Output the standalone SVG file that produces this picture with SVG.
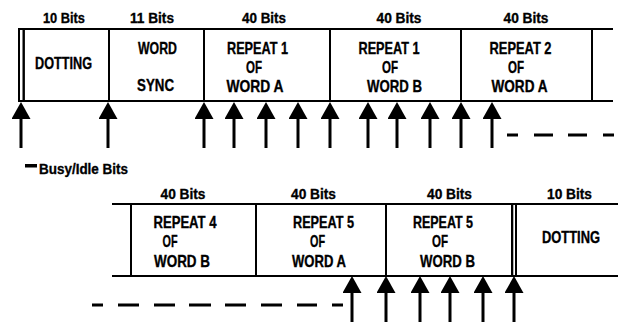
<svg xmlns="http://www.w3.org/2000/svg" width="618" height="322" viewBox="0 0 618 322">
<style>
.bg{fill:#fff}
.cell{fill:none;stroke:#000;stroke-width:2}
.ln{stroke:#000;stroke-width:2;fill:none}
.t{font-family:"Liberation Sans Narrow","Liberation Sans",Arial,sans-serif;font-weight:bold;fill:#000;stroke:#000;stroke-width:0.35;text-anchor:middle}
.lbl{font-size:15px}
.nt{font-size:16.5px}
.arrow{stroke:#000;stroke-width:3;fill:none;marker-end:url(#head)}
.dash{stroke:#000;stroke-width:3;fill:none}
</style>
<defs>
<marker id="head" markerUnits="userSpaceOnUse" viewBox="0 0 17 19" markerWidth="17" markerHeight="19" refX="0" refY="9.5" orient="auto">
<path d="M0,0 L17,9.5 L0,19 Z" fill="#000"/>
</marker>
</defs>
<rect class="bg" x="0" y="0" width="618" height="322"/>

<g id="bit-labels" class="t lbl">
<text x="64" y="23" textLength="42" lengthAdjust="spacingAndGlyphs">10 Bits</text>
<text x="152" y="23" textLength="44" lengthAdjust="spacingAndGlyphs">11 Bits</text>
<text x="264" y="23" textLength="44" lengthAdjust="spacingAndGlyphs">40 Bits</text>
<text x="399" y="23" textLength="45" lengthAdjust="spacingAndGlyphs">40 Bits</text>
<text x="526" y="23" textLength="45" lengthAdjust="spacingAndGlyphs">40 Bits</text>
<text x="183" y="198.5" textLength="45" lengthAdjust="spacingAndGlyphs">40 Bits</text>
<text x="313.5" y="198.5" textLength="45" lengthAdjust="spacingAndGlyphs">40 Bits</text>
<text x="449.5" y="198.5" textLength="45" lengthAdjust="spacingAndGlyphs">40 Bits</text>
<text x="569.5" y="198.5" textLength="45" lengthAdjust="spacingAndGlyphs">10 Bits</text>
</g>

<g id="row1-frame">
<line class="ln" x1="592" y1="29" x2="613" y2="29"/>
<line class="ln" x1="592" y1="101" x2="613" y2="101"/>
</g>
<g id="busy1"><rect class="cell" x="19" y="29" width="4.7" height="72"/></g>
<g id="dotting1" class="t nt">
<rect class="cell" x="23.7" y="29" width="85.3" height="72"/>
<text x="63.5" y="69" textLength="57" lengthAdjust="spacingAndGlyphs">DOTTING</text>
</g>
<g id="wordsync" class="t nt">
<rect class="cell" x="109" y="29" width="95" height="72"/>
<text x="157.5" y="54" textLength="39" lengthAdjust="spacingAndGlyphs">WORD</text>
<text x="155.5" y="91" textLength="37" lengthAdjust="spacingAndGlyphs">SYNC</text>
</g>
<g id="r1a" class="t nt">
<rect class="cell" x="204" y="29" width="126" height="72"/>
<text x="257.5" y="54" textLength="61" lengthAdjust="spacingAndGlyphs">REPEAT 1</text>
<text x="254" y="73" textLength="16" lengthAdjust="spacingAndGlyphs">OF</text>
<text x="255" y="92" textLength="57" lengthAdjust="spacingAndGlyphs">WORD A</text>
</g>
<g id="r1b" class="t nt">
<rect class="cell" x="330" y="29" width="131" height="72"/>
<text x="389" y="54" textLength="61" lengthAdjust="spacingAndGlyphs">REPEAT 1</text>
<text x="390" y="73" textLength="16" lengthAdjust="spacingAndGlyphs">OF</text>
<text x="394.5" y="92" textLength="55" lengthAdjust="spacingAndGlyphs">WORD B</text>
</g>
<g id="r2a" class="t nt">
<rect class="cell" x="461" y="29" width="131" height="72"/>
<text x="520.5" y="54" textLength="62" lengthAdjust="spacingAndGlyphs">REPEAT 2</text>
<text x="516" y="73" textLength="16" lengthAdjust="spacingAndGlyphs">OF</text>
<text x="519.5" y="92" textLength="56" lengthAdjust="spacingAndGlyphs">WORD A</text>
</g>

<g id="row2-frame">
<line class="ln" x1="112" y1="204" x2="131" y2="204"/>
<line class="ln" x1="112" y1="276" x2="131" y2="276"/>
<line class="ln" x1="516" y1="204" x2="618" y2="204"/>
<line class="ln" x1="516" y1="276" x2="618" y2="276"/>
</g>
<g id="r4b" class="t nt">
<rect class="cell" x="131" y="204" width="125" height="72"/>
<text x="185" y="227.5" textLength="63" lengthAdjust="spacingAndGlyphs">REPEAT 4</text>
<text x="170" y="246.5" textLength="15" lengthAdjust="spacingAndGlyphs">OF</text>
<text x="182" y="266.5" textLength="56" lengthAdjust="spacingAndGlyphs">WORD B</text>
</g>
<g id="r5a" class="t nt">
<rect class="cell" x="256" y="204" width="130" height="72"/>
<text x="323.5" y="227.5" textLength="61" lengthAdjust="spacingAndGlyphs">REPEAT 5</text>
<text x="317.5" y="246.5" textLength="15" lengthAdjust="spacingAndGlyphs">OF</text>
<text x="319" y="266.5" textLength="54" lengthAdjust="spacingAndGlyphs">WORD A</text>
</g>
<g id="r5b" class="t nt">
<rect class="cell" x="386" y="204" width="126" height="72"/>
<text x="443" y="227.5" textLength="60" lengthAdjust="spacingAndGlyphs">REPEAT 5</text>
<text x="440" y="246.5" textLength="16" lengthAdjust="spacingAndGlyphs">OF</text>
<text x="447.5" y="266.5" textLength="55" lengthAdjust="spacingAndGlyphs">WORD B</text>
</g>
<g id="busy2"><rect class="cell" x="512.3" y="204" width="3.7" height="72"/></g>
<g id="dotting2" class="t nt">
<text x="571" y="243" textLength="58" lengthAdjust="spacingAndGlyphs">DOTTING</text>
</g>

<g id="connectors">
<line class="arrow" x1="21" y1="148" x2="21" y2="119"/>
<line class="arrow" x1="108" y1="148" x2="108" y2="119"/>
<line class="arrow" x1="204" y1="148" x2="204" y2="119"/>
<line class="arrow" x1="234" y1="148" x2="234" y2="119"/>
<line class="arrow" x1="266" y1="148" x2="266" y2="119"/>
<line class="arrow" x1="298" y1="148" x2="298" y2="119"/>
<line class="arrow" x1="330" y1="148" x2="330" y2="119"/>
<line class="arrow" x1="368" y1="148" x2="368" y2="119"/>
<line class="arrow" x1="397" y1="148" x2="397" y2="119"/>
<line class="arrow" x1="430" y1="148" x2="430" y2="119"/>
<line class="arrow" x1="461" y1="148" x2="461" y2="119"/>
<line class="arrow" x1="492" y1="148" x2="492" y2="119"/>
<line class="arrow" x1="352" y1="322" x2="352" y2="293"/>
<line class="arrow" x1="386" y1="322" x2="386" y2="293"/>
<line class="arrow" x1="420" y1="322" x2="420" y2="293"/>
<line class="arrow" x1="450" y1="322" x2="450" y2="293"/>
<line class="arrow" x1="483" y1="322" x2="483" y2="293"/>
<line class="arrow" x1="514" y1="322" x2="514" y2="293"/>
<path class="dash" d="M507,135H518M534,135H553M568,135H587M603,135H614"/>
<path class="dash" d="M92,305H103M118,305H139M154,305H175M189,305H211M225,305H246M261,305H282M297,305H317M332,305H343"/>
</g>

<g id="legend">
<rect x="25" y="164" width="12" height="3.5" fill="#000"/>
<text class="t lbl" x="39" y="174" style="text-anchor:start" textLength="89" lengthAdjust="spacingAndGlyphs">Busy/Idle Bits</text>
</g>
</svg>
